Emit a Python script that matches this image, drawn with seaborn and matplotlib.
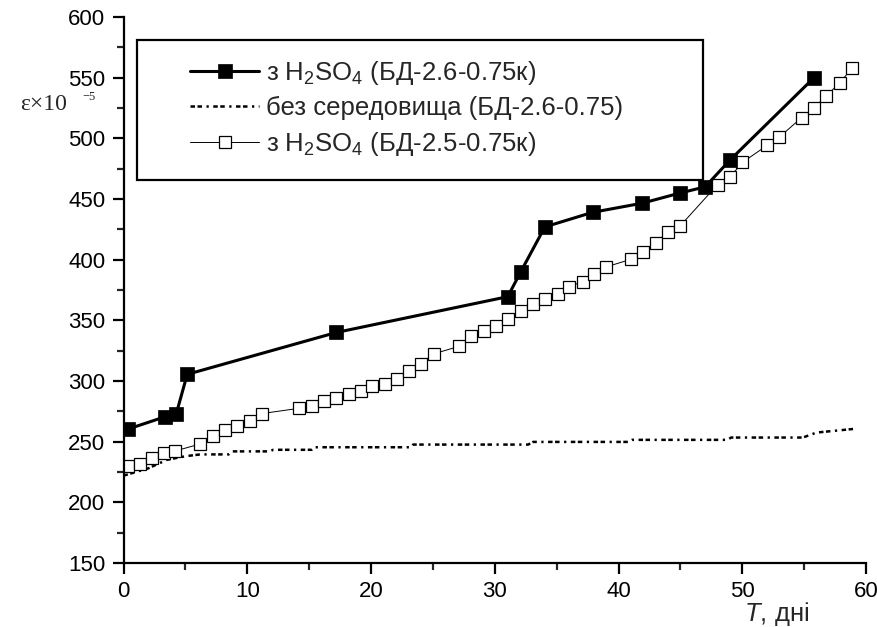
import numpy as np
import pandas as pd
import matplotlib
matplotlib.use("Agg")
import matplotlib.pyplot as plt
import seaborn as sns
from matplotlib.patches import Rectangle
from matplotlib.ticker import MultipleLocator

# ---------------- data ----------------
filled_days = [0.4, 3.35, 4.25, 5.15, 17.2, 31.05, 32.1, 34.05, 37.9, 41.9, 45.0, 47.0, 49.0, 55.8]
filled_strain = [260.5, 270.5, 272.5, 305.5, 340.0, 369.5, 390.0, 427.0, 439.0, 446.5, 455.0, 460.0, 482.0, 550.0]

plain_days = [0, 2, 3.5, 5, 6.2, 8.5, 8.8, 11.8, 12.1, 15.2, 15.4, 23.2, 23.4, 32.7, 33.1,
              40.8, 41.1, 48.8, 49.1, 54.9, 56.0, 57.0, 59.0]
plain_strain = [222, 228, 235, 238, 239.5, 239.5, 242, 242, 243.3, 243.3, 245.4, 245.4, 247.6, 247.6,
                249.8, 249.8, 251.5, 251.5, 253.4, 253.4, 257.5, 258.5, 260.5]

open_days = [0.4, 1.3, 2.3, 3.3, 4.2, 6.2, 7.2, 8.2, 9.2, 10.2, 11.2, 14.2, 15.2, 16.2, 17.2,
             18.2, 19.2, 20.1, 21.1, 22.1, 23.1, 24.0, 25.1, 27.1, 28.1, 29.1, 30.1, 31.1,
             32.1, 33.1, 34.1, 35.1, 36.0, 37.1, 38.0, 39.0, 41.0, 42.0, 43.0, 44.0, 45.0,
             48.0, 49.0, 50.0, 52.0, 53.0, 54.8, 55.8, 56.8, 57.9, 58.9]
open_strain = [230, 232, 236.4, 240.5, 242.4, 248.1, 254.7, 259.4, 262.7, 267.4, 273.2, 277.5,
               279.7, 283.8, 285.7, 289.3, 292.1, 295.6, 297.8, 301.9, 308, 314.3, 322.5, 328.5,
               336.7, 341.1, 345, 351, 357.6, 363.6, 367.4, 371.5, 377.6, 382, 388, 394, 400.3,
               406.1, 414.1, 422.9, 428, 461.8, 467.8, 480.1, 494.1, 501, 517.1, 525.1, 535.2,
               545.9, 558.3]

series_labels = [r"з $\mathregular{H_2SO_4}$ (БД-2.6-0.75к)",
                 "без середовища (БД-2.6-0.75)",
                 r"з $\mathregular{H_2SO_4}$ (БД-2.5-0.75к)"]
x_ticks = [0, 10, 20, 30, 40, 50, 60]
y_ticks = [150, 200, 250, 300, 350, 400, 450, 500, 550, 600]

# ---------------- style ----------------
sns.set_style("ticks")
plt.rcParams['font.family'] = ['Liberation Sans', 'DejaVu Sans']
plt.rcParams['mathtext.fontset'] = 'custom'
plt.rcParams['mathtext.rm'] = 'Liberation Sans'
plt.rcParams['mathtext.it'] = 'Liberation Sans:italic'

W, H = 877, 627
fig = plt.figure(figsize=(W / 100, H / 100), dpi=100)
ax_l, ax_r, ax_t, ax_b = 123.5, 866.0, 17.0, 563.0
ax = fig.add_axes([ax_l / W, 1 - ax_b / H, (ax_r - ax_l) / W, (ax_b - ax_t) / H])

df_filled = pd.DataFrame({"T": filled_days, "eps": filled_strain})
df_plain = pd.DataFrame({"T": plain_days, "eps": plain_strain})
df_open = pd.DataFrame({"T": open_days, "eps": open_strain})

sns.lineplot(data=df_plain, x="T", y="eps", ax=ax, sort=False, estimator=None,
             color="black", linewidth=1.8, linestyle=(0, (1.8, 1.0, 1.8, 1.8, 0.9, 1.8)),
             label=series_labels[1], zorder=2)
sns.lineplot(data=df_open, x="T", y="eps", ax=ax, sort=False, estimator=None,
             color="black", linewidth=0.7, marker="s", markersize=9,
             markerfacecolor="white", markeredgecolor="black", markeredgewidth=0.9,
             label=series_labels[2], zorder=3)
sns.lineplot(data=df_filled, x="T", y="eps", ax=ax, sort=False, estimator=None,
             color="black", linewidth=2.2, marker="s", markersize=9.5,
             markerfacecolor="black", markeredgecolor="black", markeredgewidth=0.5,
             label=series_labels[0], zorder=4)

ax.set_xlim(0, 60)
ax.set_ylim(150, 600)
ax.set_xticks(x_ticks)
ax.set_yticks(y_ticks)
ax.xaxis.set_minor_locator(MultipleLocator(5))
ax.yaxis.set_minor_locator(MultipleLocator(25))
ax.tick_params(axis="both", which="major", direction="out", length=8, width=1.6,
               labelsize=16, pad=5, colors="black")
ax.tick_params(axis="both", which="minor", direction="out", length=5, width=1.6)
for s in ["top", "right"]:
    ax.spines[s].set_visible(False)
for s in ["left", "bottom"]:
    ax.spines[s].set_linewidth(1.6)
    ax.spines[s].set_color("black")
    ax.spines[s].set_zorder(5)
ax.set_xlabel("")
ax.set_ylabel("")

# legend frame (larger than its contents, as in the reference)
def ax_xy(px, py):
    return ((px - ax_l) / (ax_r - ax_l), (ax_b - py) / (ax_b - ax_t))

x0, y0 = ax_xy(137, 180)
x1, y1 = ax_xy(703, 40)
ax.add_patch(Rectangle((x0, y0), x1 - x0, y1 - y0, transform=ax.transAxes,
                       fill=False, edgecolor="black", linewidth=1.6, zorder=6))

handles, labels = ax.get_legend_handles_labels()
order = [labels.index(l) for l in series_labels]
lx, ly = ax_xy(190, 59)
leg = ax.legend([handles[i] for i in order], [labels[i] for i in order],
                loc="upper left", bbox_to_anchor=(lx, ly), frameon=False,
                borderpad=0, borderaxespad=0, handlelength=2.7, handletextpad=0.25,
                labelspacing=0.36, fontsize=18.5)

# axis titles
fig.text(20 / W, 1 - 104 / H, "ε×10", family="Liberation Serif", fontsize=17,
         ha="left", va="center")
fig.text(82 / W, 1 - 97 / H, "−5", family="Liberation Serif", fontsize=9,
         ha="left", va="center")
fig.text(744 / W, 1 - 614 / H, r"$\it{T}$, дні", fontsize=18.5, ha="left", va="center")

fig.savefig("out.png", dpi=100)
